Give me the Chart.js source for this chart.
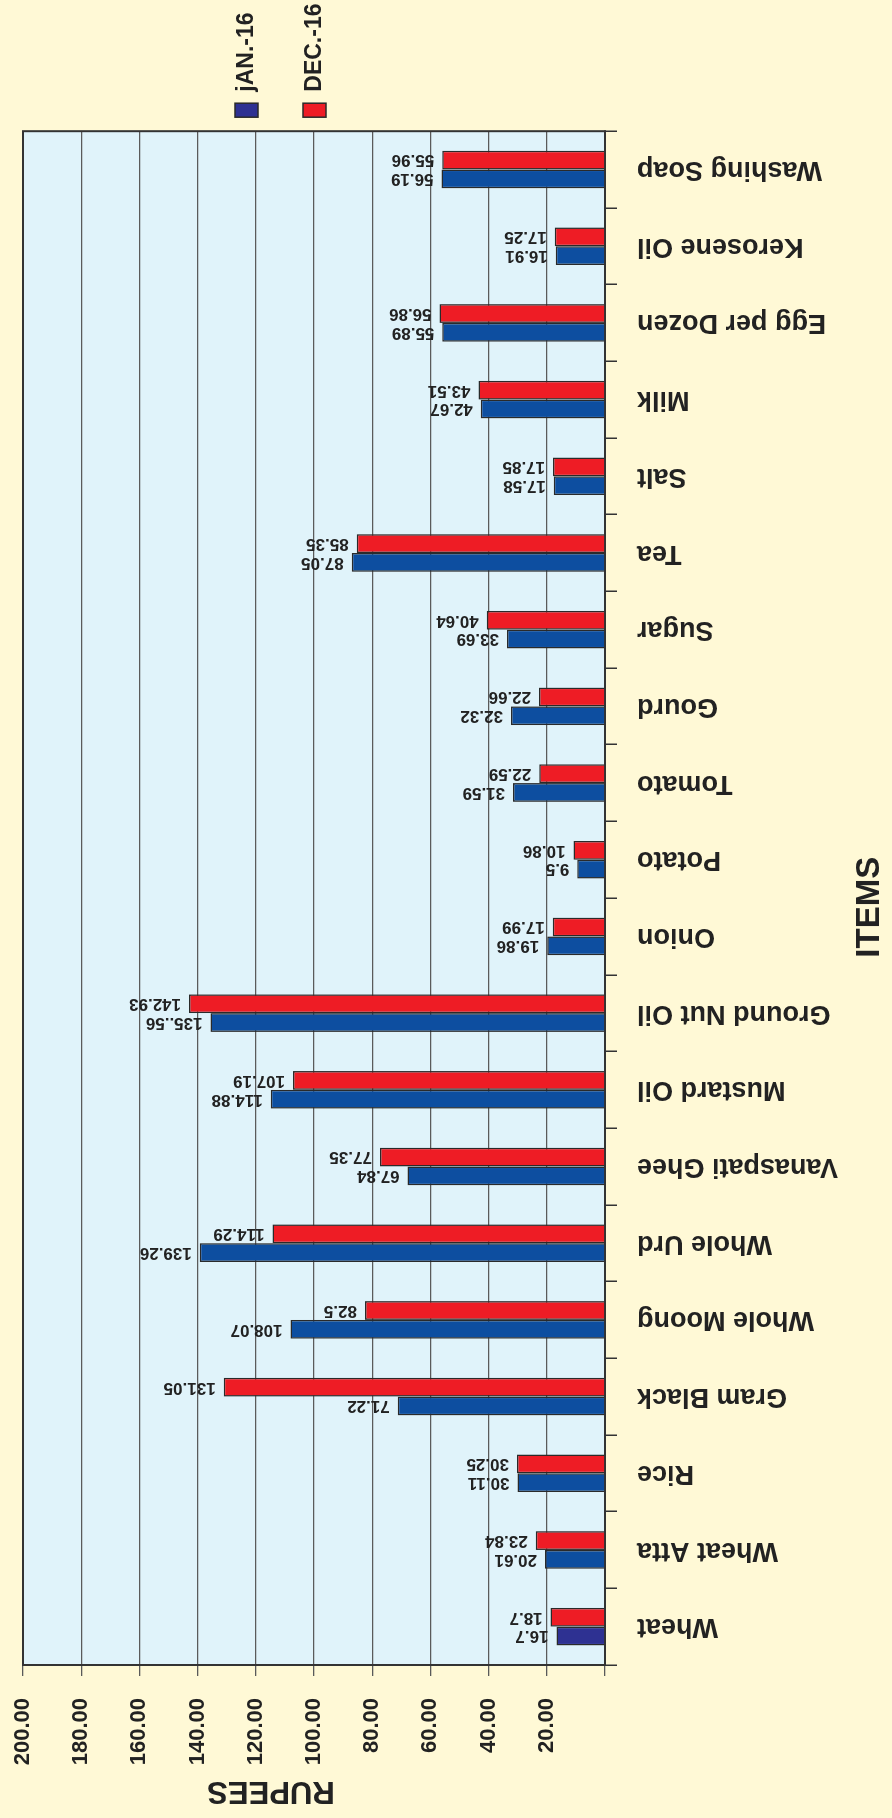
<!DOCTYPE html>
<html>
<head>
<meta charset="utf-8">
<title>Item prices: Jan-16 vs Dec-16</title>
<script src="https://cdn.jsdelivr.net/npm/chart.js@4.4.1/dist/chart.umd.min.js"></script>
<style>
  html, body { margin: 0; padding: 0; background: #fff9d6; width: 892px; height: 1818px; overflow: hidden; }
  /* chart is laid out as a normal column chart, then turned a quarter to the left */
  #wrap { position: absolute; left: 0; top: 0; width: 1818px; height: 892px;
          transform-origin: 0 0; transform: translate(0, 1818px) rotate(-90deg); }
</style>
</head>
<body>
<div id="wrap"><canvas id="priceChart" width="1818" height="892"></canvas></div>
<script>
// --- data ---
const categories = ['Wheat', 'Wheat Atta', 'Rice', 'Gram Black', 'Whole Moong', 'Whole Urd',
  'Vanaspati Ghee', 'Mustard Oil', 'Ground Nut Oil', 'Onion', 'Potato', 'Tomato', 'Gourd',
  'Sugar', 'Tea', 'Salt', 'Milk', 'Egg per Dozen', 'Kerosene Oil', 'Washing Soap'];
const seriesNames = ['jAN.-16', 'DEC.-16'];
const jan16 = [16.7, 20.61, 30.11, 71.22, 108.07, 139.26, 67.84, 114.88, 135.56, 19.86,
  9.5, 31.59, 32.32, 33.69, 87.05, 17.58, 42.67, 55.89, 16.91, 56.19];
const dec16 = [18.7, 23.84, 30.25, 131.05, 82.5, 114.29, 77.35, 107.19, 142.93, 17.99,
  10.86, 22.59, 22.66, 40.64, 85.35, 17.85, 43.51, 56.86, 17.25, 55.96];
const rupeeTicks = [0, 20, 40, 60, 80, 100, 120, 140, 160, 180, 200];

// value labels as printed (the source has "135..56" for ground nut oil)
const janText = jan16.map(String);
janText[8] = '135..56';
const decText = dec16.map(String);
const valueTexts = [janText, decText];

const FONT = "'Liberation Sans', Arial, sans-serif";
const BLUE = '#0d4ea0';
const NAVY = '#2e3192';
const RED = '#ee1c25';
const INK = '#222';

// first JAN bar (wheat) is navy in the original
const janColors = categories.map((c, i) => i === 0 ? NAVY : BLUE);
const legendColors = [NAVY, RED];

// light blue plot area plus a frame round it
const plotBackground = {
  id: 'plotBackground',
  beforeDraw(chart) {
    const { ctx, chartArea: a } = chart;
    ctx.save();
    ctx.fillStyle = '#e0f3fa';
    ctx.fillRect(a.left, a.top, a.width, a.height);
    ctx.restore();
  },
  beforeDatasetsDraw(chart) {
    const { ctx, chartArea: a } = chart;
    ctx.save();
    ctx.strokeStyle = '#333';
    ctx.lineWidth = 2;
    ctx.strokeRect(a.left, a.top, a.width, a.height);
    ctx.restore();
  }
};

// value written past the end of each bar
const barValues = {
  id: 'barValues',
  afterDatasetsDraw(chart) {
    const ctx = chart.ctx;
    ctx.save();
    ctx.font = 'bold 17px ' + FONT;
    ctx.fillStyle = INK;
    ctx.textAlign = 'left';
    ctx.textBaseline = 'middle';
    chart.data.datasets.forEach((ds, i) => {
      chart.getDatasetMeta(i).data.forEach((bar, j) => {
        ctx.save();
        ctx.translate(bar.x, bar.y - 8);
        ctx.rotate(-Math.PI / 2);
        ctx.fillText(valueTexts[i][j], 0, 0);
        ctx.restore();
      });
    });
    ctx.restore();
  }
};

new Chart(document.getElementById('priceChart'), {
  type: 'bar',
  data: {
    labels: categories,
    datasets: [
      { label: seriesNames[0], data: jan16, backgroundColor: janColors, borderColor: '#2a2a2a', borderWidth: 1.5 },
      { label: seriesNames[1], data: dec16, backgroundColor: RED, borderColor: '#2a2a2a', borderWidth: 1.5 }
    ]
  },
  options: {
    responsive: false,
    animation: false,
    categoryPercentage: 0.49,
    barPercentage: 1.0,
    layout: { padding: { top: 23, left: 9, right: -6.5, bottom: 2 } },
    plugins: {
      tooltip: { enabled: false },
      legend: {
        position: 'right',
        align: 'start',
        title: { display: true, text: '', padding: { top: 183.6, bottom: 0 } },
        labels: {
          boxWidth: 14,
          boxHeight: 23,
          padding: 14,
          color: INK,
          font: { family: FONT, size: 23, weight: 'bold', lineHeight: 54 / 23 },
          generateLabels: (chart) => chart.data.datasets.map((ds, i) => ({
            text: [ds.label],
            fillStyle: legendColors[i],
            strokeStyle: '#2a2a2a',
            lineWidth: 1.5,
            fontColor: INK,
            hidden: false,
            datasetIndex: i
          }))
        }
      }
    },
    scales: {
      x: {
        afterFit: (scale) => { scale.height = 285; scale.paddingLeft = 0; scale.paddingRight = 0; },
        grid: { offset: true, drawOnChartArea: false, tickLength: 12, color: '#333', lineWidth: 1.5 },
        border: { color: '#333', width: 2 },
        ticks: {
          autoSkip: false, minRotation: 90, maxRotation: 90, padding: 20, color: INK,
          font: { family: FONT, size: 27, weight: 'bold' }
        },
        title: {
          display: true, text: 'ITEMS  ', color: INK,
          font: { family: FONT, size: 33, weight: 'bold' },
          padding: { top: 20, bottom: 0 }
        }
      },
      y: {
        min: rupeeTicks[0],
        max: rupeeTicks[rupeeTicks.length - 1],
        afterBuildTicks: (scale) => { scale.ticks = rupeeTicks.map(v => ({ value: v })); },
        afterFit: (scale) => { scale.width = 144; scale.paddingTop = 0; scale.paddingBottom = 0; },
        grid: { color: '#5a5a5a', lineWidth: 1.3, tickLength: 11 },
        border: { color: '#333', width: 2 },
        ticks: {
          padding: 22, color: INK,
          font: { family: FONT, size: 22, weight: 'bold' },
          callback: (v) => v === 0 ? '' : Number(v).toFixed(2)
        },
        title: {
          display: true, text: '          RUPEES', color: INK,
          font: { family: FONT, size: 31, weight: 'bold' },
          padding: { top: 0, bottom: 6 }
        }
      }
    }
  },
  plugins: [plotBackground, barValues]
});
</script>
</body>
</html>
